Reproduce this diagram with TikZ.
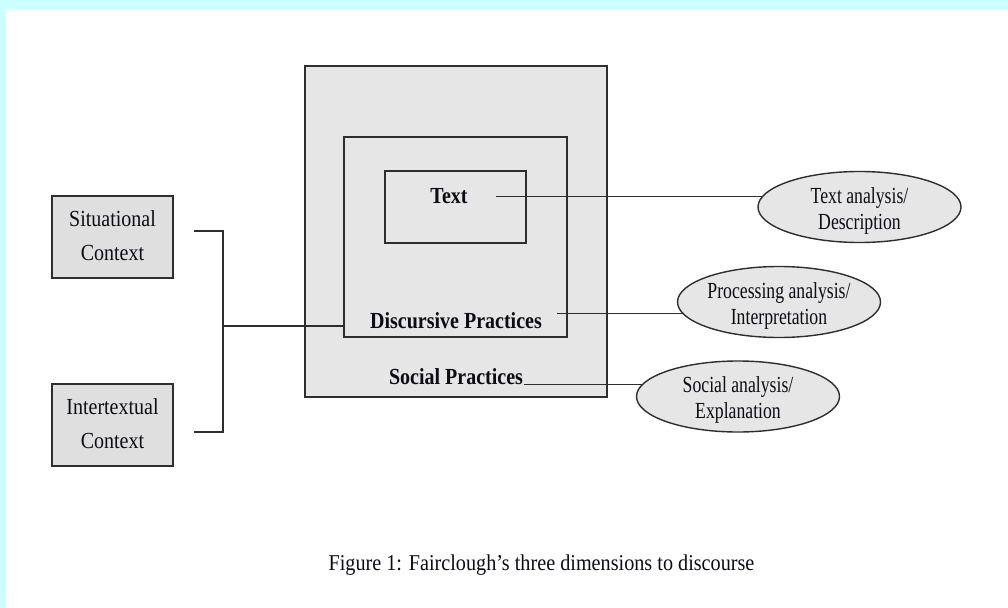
\documentclass[tikz,border=0pt]{standalone}
\usepackage{fontspec}
\setmainfont{Liberation Serif}
\usetikzlibrary{shapes.geometric}
\pgfdeclarelayer{back}
\pgfdeclarelayer{mid}
\pgfsetlayers{back,mid,main}
\definecolor{cyanband}{HTML}{CCFFFF}
\definecolor{boxgray}{HTML}{E6E6E6}
\definecolor{ctxgray}{HTML}{DFDFDF}
\definecolor{linegray}{HTML}{2E2E2E}
\definecolor{inkc}{HTML}{0C0C14}
\newcommand{\bxt}[1]{\scalebox{1}[1.15]{\fontsize{20}{29.5}\selectfont\begin{tabular}{@{}c@{}}#1\end{tabular}}}
\newcommand{\elt}[1]{\raisebox{-9.5pt}[0pt][0pt]{\scalebox{1}[1.3]{\fontsize{17.7}{20}\selectfont\begin{tabular}{@{}c@{}}#1\end{tabular}}}}
\begin{document}
\begin{tikzpicture}[x=1pt,y=-1pt,
  every node/.style={text=inkc, inner sep=0pt},
  nestbox/.style={draw=linegray, line width=1.5pt, rectangle},
  ctxbox/.style={draw=linegray, line width=1.6pt, fill=ctxgray, rectangle, minimum width=121pt, minimum height=82pt},
  anabubble/.style={draw=linegray, line width=1.4pt, fill=boxgray, ellipse, minimum width=203pt, minimum height=71pt},
  conn/.style={draw=linegray, line width=1.6pt}]
\useasboundingbox (0,0) rectangle (1008,607);

\begin{pgfonlayer}{back}
\fill[white] (0,0) rectangle (1008,607);
\fill[cyanband] (0,0) rectangle (1008,9);
\fill[cyanband] (0,0) rectangle (6,607);
\node[nestbox, fill=boxgray, minimum width=302pt, minimum height=331pt] (sp) at (456,231.5) {};
\node[nestbox, minimum width=223pt, minimum height=200pt] (dp) at (455.5,237) {};
\node[nestbox, minimum width=141pt, minimum height=72pt] (tx) at (455.5,207) {};
\node (txlbl) at (449,197) {\bxt{\bfseries Text}};
\node (dplbl) at (456,321.5) {\bxt{\bfseries Discursive Practices}};
\node (splbl) at (456,378) {\bxt{\bfseries Social Practices}};
\end{pgfonlayer}

\node[ctxbox] (sc) at (112.5,237) {\bxt{Situational\\Context}};
\node[ctxbox] (ic) at (112.5,425) {\bxt{Intertextual\\Context}};

\node[anabubble] (ta) at (859.5,207) {\elt{Text analysis/\\Description}};
\node[anabubble] (pa) at (779,302) {\elt{Processing analysis/\\Interpretation}};
\node[anabubble] (sa) at (738,396.5) {\elt{Social analysis/\\Explanation}};

\coordinate (c1) at (496,196.5);
\coordinate (c2) at (557,313.5);
\coordinate (c3) at (523.5,384.5);
\coordinate (bt) at (194,231);
\coordinate (bb) at (194,432);
\coordinate (bm) at (223,326);

\begin{pgfonlayer}{mid}
\draw[conn] (c1) -- (c1 -| ta.center);
\draw[conn] (c2) -- (c2 -| pa.center);
\draw[conn] (c3) -- (c3 -| sa.center);
\draw[conn] (bt) -- (bt -| bm) -- (bb -| bm) -- (bb);
\draw[conn] (bm) -- (bm -| dp.west);
\end{pgfonlayer}

\node (cap) at (541.5,565) {\scalebox{1}[1.12]{\fontsize{20.2}{24}\selectfont Figure 1: Fairclough’s three dimensions to discourse}};
\end{tikzpicture}
\end{document}
